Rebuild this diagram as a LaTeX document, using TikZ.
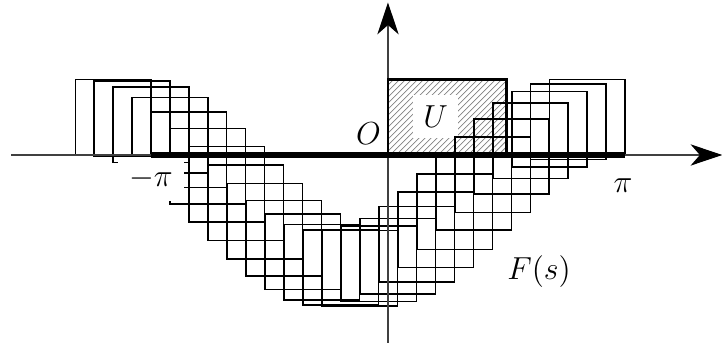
\documentclass[tikz,border=0pt]{standalone}
\usepackage{amsmath,amssymb}
\usepackage{xcolor}
\usepackage{tikz}
\usetikzlibrary{arrows.meta,patterns.meta}
\definecolor{hatchx}{HTML}{808080}
\definecolor{axisx}{HTML}{404040}
\tikzset{
  ar/.style={-{Stealth[length=12pt,width=8pt,inset=3.5pt,black]},line width=0.45pt,axisx},
  sq/.style={line width=0.6pt},
  lab/.style={font=\large,inner sep=1pt},
  mask/.style={fill=white,font=\large,inner sep=0pt}
}

\begin{document}
\begin{tikzpicture}
\useasboundingbox (-5.139,-2.543) rectangle (4.424,2.053);
\coordinate (xl) at (-4.99,0);
\coordinate (xr) at (4.43,0);
\coordinate (yb) at (0,-2.49);
\coordinate (yt) at (0,2.02);
\coordinate (sl) at ({-pi},0);
\coordinate (sr) at ({pi},0);
\fill[pattern={Lines[angle=45,distance=1.6pt,line width=0.3pt]},pattern color=hatchx] (0,0) rectangle ({pi/2},1);
\node[mask,minimum width=0.6cm,minimum height=0.57cm] (u) at (0.63,0.51) {$U$};
\foreach \h [count=\k from 0] in {1.00,0.98,0.90,0.76,0.57,0.35,0.11,-0.13,-0.38,-0.60,-0.78,-0.92,-0.99,
  -1.00,-0.94,-0.84,-0.68,-0.49,-0.25,0.01,0.24,0.48,0.69,0.84,0.94,1.00}
  \draw[sq] ({-pi-1+\k*2*pi/25},{\h-1}) rectangle ++(1,1);
\node[mask,minimum width=0.87cm,minimum height=0.58cm] (mpi) at (-3.14,-0.318) {$-\pi$};
\draw[ar] (xl) -- (xr);
\draw[ar] (yb) -- (yt);
\draw[line width=1.1pt] (0,0) rectangle ({pi/2},1);
\draw[line width=2.5pt] (sl) -- (sr);
\node[lab] (o) at (-0.258,0.278) {$O$};
\node[lab] (ppi) at (3.113,-0.41) {$\pi$};
\node[lab] (fs) at (2.0,-1.55) {$F(s)$};
\end{tikzpicture}
\end{document}
